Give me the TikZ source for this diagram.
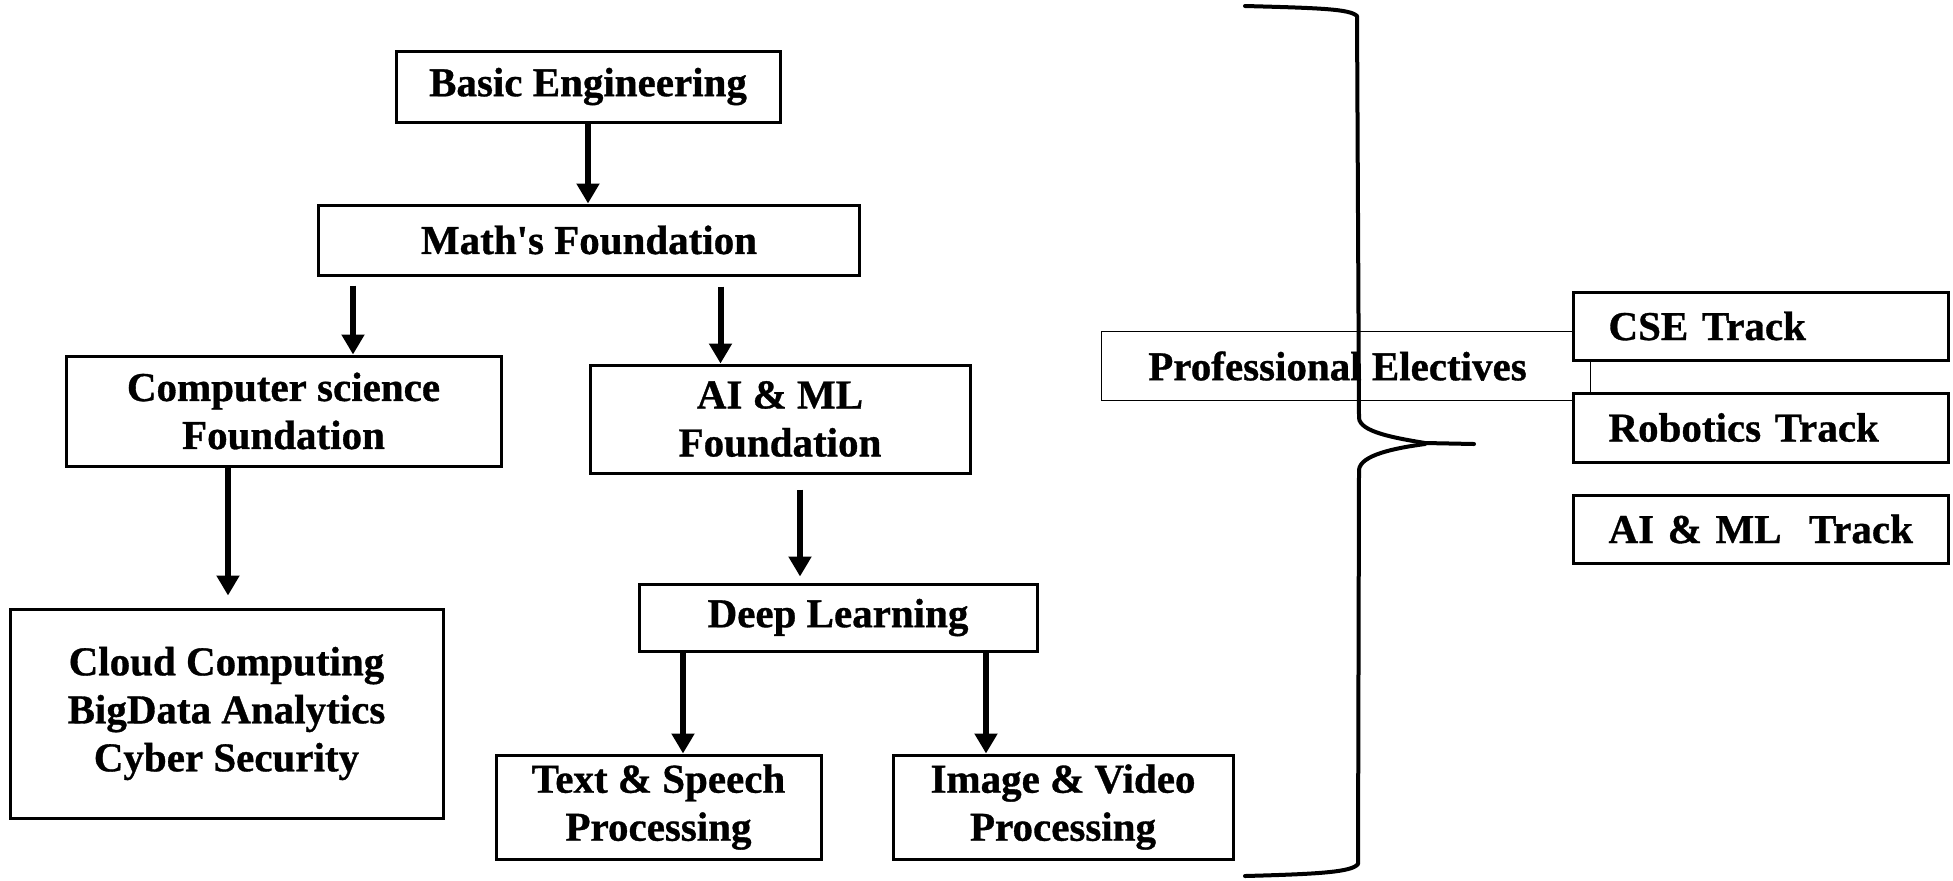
\documentclass[tikz,border=0pt]{standalone}
\usepackage{fontspec}
\setmainfont{Liberation Serif}[BoldFeatures={FakeBold=0.8}]
\usetikzlibrary{arrows.meta,calc}
\begin{document}
\begin{tikzpicture}[x=0.5pt,y=-0.5pt,
  txt/.style={font=\bfseries\fontsize{20.5pt}{24pt}\selectfont, align=center, inner sep=0pt},
  box/.style={txt, draw, line width=1.5pt},
  trackbox/.style={box, align=left, text width=152pt, inner xsep=17.75pt, inner ysep=0pt},
  arr/.style={line width=3pt, -{Triangle[width=11pt,length=10pt]}},
  thinline/.style={line width=0.7pt},
  bracestyle/.style={line width=2pt, line join=round, line cap=round}]
\useasboundingbox (0,0) rectangle (1953,880);

\node[box, minimum width=192pt, minimum height=35.5pt] (BE) at (588,86.5) {Basic Engineering};
\node[box, minimum width=270.5pt, minimum height=35pt] (MF) at (589,240) {Math\textquotesingle s Foundation};
\node[box, minimum width=217.5pt, minimum height=55pt] (CSF) at (283.5,411) {Computer science\\Foundation};
\node[box, minimum width=190pt, minimum height=54pt] (AIF) at (780,419) {AI \& ML\\Foundation};
\node[box, minimum width=216.5pt, minimum height=104.5pt] (Cloud) at (226.5,713.5) {Cloud Computing\\BigData Analytics\\Cyber Security};
\node[box, minimum width=199pt, minimum height=33.5pt] (DL) at (838,617.5) {Deep Learning};
\node[box, minimum width=162.5pt, minimum height=52pt] (TS) at (658.5,807) {Text \& Speech\\Processing};
\node[box, minimum width=170pt, minimum height=52pt] (IV) at (1063,807) {Image \& Video\\Processing};

\node[trackbox, minimum height=34pt] (CSE) at (1760.5,326) {CSE Track};
\node[trackbox, minimum height=34.5pt] (Rob) at (1760.5,427.5) {Robotics Track};
\node[trackbox, minimum height=34pt] (AIT) at (1760.5,529) {\mbox{AI \& ML\ \ Track}};

\node[txt, minimum width=235.5pt, minimum height=34pt] (PE) at (1337.5,366) {Professional Electives};
\draw[thinline] (PE.north east) -- (PE.north west) -- (PE.south west) -- (PE.south east);
\draw[thinline] ($(CSE.south west)+(19,0)$) -- ($(Rob.north west)+(19,0)$);

% arrows
\draw[arr] (BE.south) -- (BE.south |- MF.north);
\coordinate (a1) at ($(MF.south west)+(36,9)$);
\draw[arr] (a1) -- (a1 |- CSF.north);
\coordinate (a2) at ($(AIF.north west |- MF.south)+(132,10)$);
\draw[arr] (a2) -- (a2 |- AIF.north);
\coordinate (a3) at ($(CSF.south -| Cloud.north)+(1.5,0)$);
\draw[arr] (a3) -- ($(a3 |- Cloud.north)+(0,-12)$);
\coordinate (a4) at ($(AIF.south)+(20,15)$);
\draw[arr] (a4) -- ($(a4 |- DL.north)+(0,-6)$);
\coordinate (a5) at ($(TS.north |- DL.south)+(24.5,0)$);
\draw[arr] (a5) -- (a5 |- TS.north);
\coordinate (a6) at ($(IV.north |- DL.south)+(-77,0)$);
\draw[arr] (a6) -- (a6 |- IV.north);

% brace
\draw[bracestyle] (1245,6) .. controls (1320,8) and (1350,9) .. (1357,16)
  -- (1359,418) .. controls (1360,432) and (1395,438) .. (1425,443) -- (1474,444);
\draw[bracestyle] (1425,444) .. controls (1395,448) and (1360,455) .. (1359,470)
  -- (1358,864) .. controls (1352,872) and (1320,874) .. (1245,876);
\end{tikzpicture}
\end{document}
